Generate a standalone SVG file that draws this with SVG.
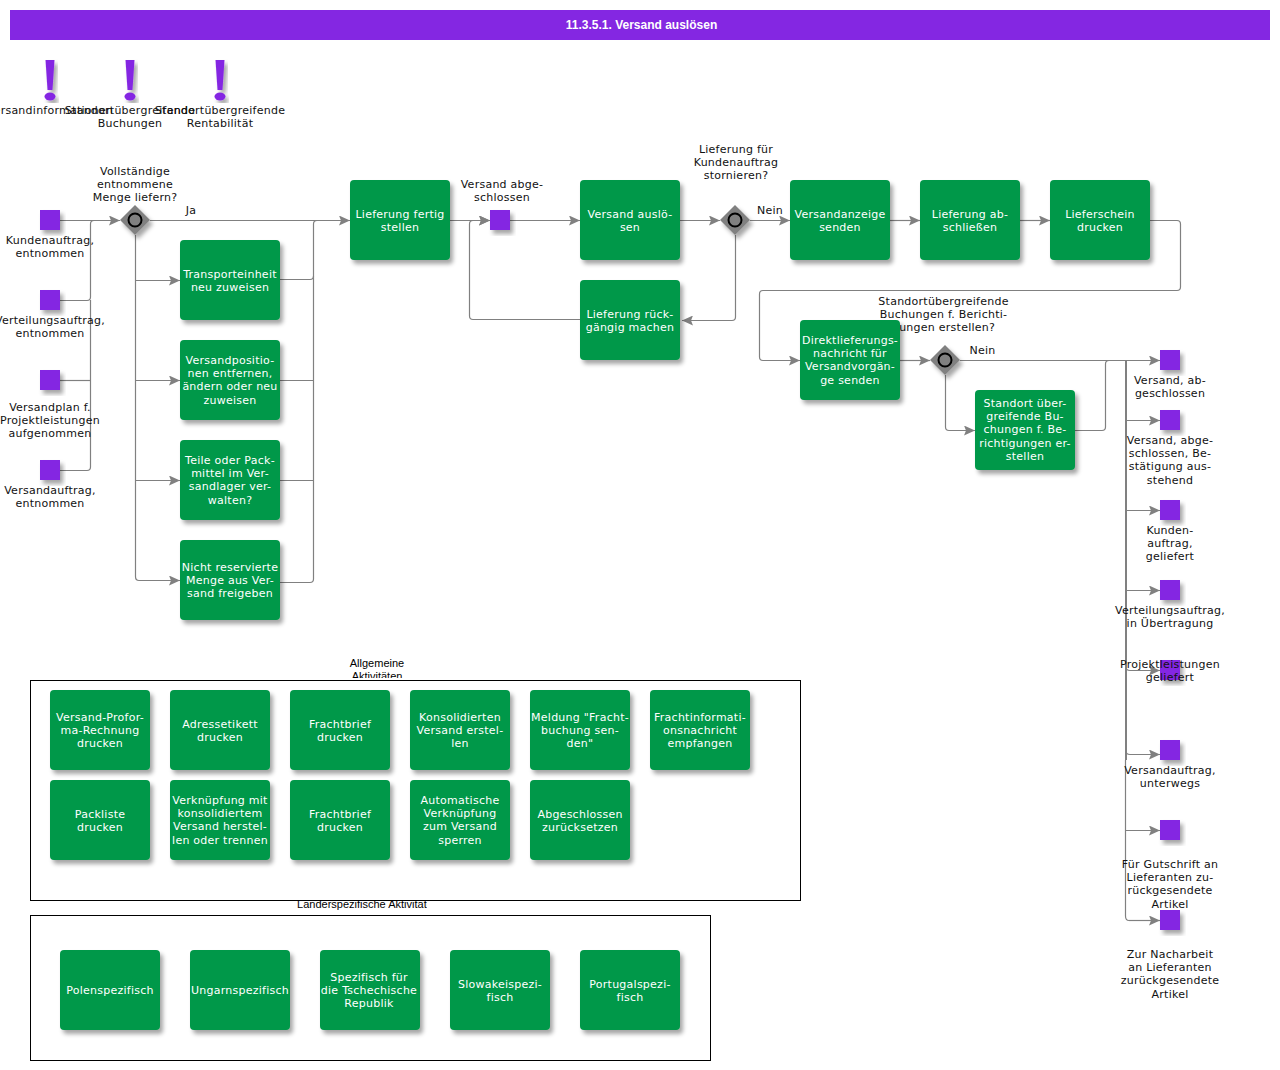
<svg xmlns="http://www.w3.org/2000/svg" width="1280" height="1070" viewBox="0 0 1280 1070">
<style>
text{font-family:"DejaVu Sans",sans-serif;font-size:11px;text-anchor:middle;letter-spacing:.25px}
.t{fill:#fff}.l{fill:#111}
.a{font-family:"Liberation Sans",Arial,sans-serif;fill:#000;letter-spacing:0}
.task{fill:#00984a;filter:url(#s)}
.sq{fill:#8427e2;filter:url(#s)}
.ex{fill:#8427e2;filter:url(#s)}
.gw{fill:#808080;filter:url(#s)}
.ring{fill:#808080;stroke:#000;stroke-width:2}
.c path{fill:none;stroke:#808080;stroke-width:1.2}
.c .e{marker-end:url(#m)}
.frame{fill:none;stroke:#000;stroke-width:1}
</style>
<defs>
<filter id="s" x="-20%" y="-20%" width="150%" height="150%"><feDropShadow dx="3" dy="4" stdDeviation="2" flood-color="#000" flood-opacity=".35"/></filter>
<marker id="m" markerUnits="userSpaceOnUse" markerWidth="11" markerHeight="10" refX="11" refY="5" orient="auto"><path d="M0 0L11 5L0 10L2 5Z" fill="#808080"/></marker>
<clipPath id="c1"><rect x="300" y="650" width="160" height="28"/></clipPath>
<clipPath id="c2"><rect x="295" y="901" width="132" height="13"/></clipPath>
</defs>
<rect id="bg" width="1280" height="1070" fill="#fff"/>
<g id="title"><rect x="10" y="10" width="1260" height="30" fill="#8427e2"/><text x="641.500" y="29" class="a" style="font-size:12px;font-weight:bold;fill:#fff">11.3.5.1. Versand auslösen</text></g>
<g id="frames">
<rect class="frame" x="30.500" y="680.500" width="770" height="220"/>
<rect class="frame" x="30.500" y="915.500" width="680" height="145"/>
<g clip-path="url(#c1)"><text class="a" x="377" y="667">Allgemeine</text><text class="a" x="377" y="680">Aktivitäten</text></g>
<g clip-path="url(#c2)"><text class="a" x="368" y="908">Länderspezifische Aktivitäten</text></g>
</g>
<g id="notes">
<g id="n1"><path class="ex" d="M45.500 60H54.500L52.500 90H47.500Z"/><ellipse class="ex" cx="50" cy="96.500" rx="5.500" ry="4"/><text class="l" x="50" y="114">Versandinformationen</text></g>
<g id="n2"><path class="ex" d="M125.500 60H134.500L132.500 90H127.500Z"/><ellipse class="ex" cx="130" cy="96.500" rx="5.500" ry="4"/><text class="l" x="130" y="114">Standortübergreifende</text><text class="l" x="130" y="127">Buchungen</text></g>
<g id="n3"><path class="ex" d="M215.500 60H224.500L222.500 90H217.500Z"/><ellipse class="ex" cx="220" cy="96.500" rx="5.500" ry="4"/><text class="l" x="220" y="114">Standortübergreifende</text><text class="l" x="220" y="127">Rentabilität</text></g>
</g>
<g id="connectors" class="c">
<path class="e" d="M60 220.500H120"/>
<path d="M60 300.500H87Q90.500 300.500 90.500 297V224Q90.500 220.500 94 220.500H100"/>
<path d="M60 380.500H90.500"/>
<path d="M60 470.500H87Q90.500 470.500 90.500 467V300"/>
<path class="e" d="M150 220.500H350"/>
<path d="M135.500 235V576.500Q135.500 580.500 139 580.500H150"/>
<path class="e" d="M135.500 280.500H180"/><path class="e" d="M135.500 380.500H180"/><path class="e" d="M135.500 480.500H180"/><path class="e" d="M139 580.500H180"/>
<path d="M280 279.500H310Q313.500 279.500 313.500 276V224Q313.500 220.500 317 220.500H320"/>
<path d="M280 380.500H313.500"/><path d="M280 480.500H313.500"/>
<path d="M280 582.500H310Q313.500 582.500 313.500 579V276"/>
<path class="e" d="M450 220.500H490"/>
<path class="e" d="M510 220.500H580"/>
<path class="e" d="M680 220.500H720"/>
<path class="e" d="M735.500 235V317Q735.500 320.500 732 320.500H682"/>
<path class="e" d="M580 319.500H473Q469.500 319.500 469.500 316V224Q469.500 220.500 473 220.500H490"/>
<path class="e" d="M750 220.500H790"/>
<path class="e" d="M890 220.500H920"/>
<path class="e" d="M1020 220.500H1050"/>
<path class="e" d="M1150 220.500H1177Q1180.500 220.500 1180.500 224V287Q1180.500 290.500 1177 290.500H763Q759.500 290.500 759.500 294V357Q759.500 360.500 763 360.500H800"/>
<path class="e" d="M900 360.500H930"/>
<path class="e" d="M960 360.500H1160"/>
<path class="e" d="M945.500 375V427Q945.500 430.500 949 430.500H975"/>
<path d="M1075 430.500H1102Q1105.500 430.500 1105.500 427V364Q1105.500 360.500 1109 360.500H1115"/>
<path style="stroke-width:2" d="M1126 361V760"/>
<path d="M1125.500 760V916Q1125.500 920.500 1129 920.500"/>
<path class="e" d="M1126 420.500H1160"/>
<path class="e" d="M1126 510.500H1160"/>
<path class="e" d="M1126 590.500H1160"/>
<path class="e" d="M1126 667Q1126 670.500 1130 670.500H1160"/>
<path class="e" d="M1126 751Q1126 754.500 1130 754.500H1160"/>
<path class="e" d="M1126 830.500H1160"/>
<path class="e" d="M1129 920.500H1160"/>
</g>
<g id="labels">
<text class="l" x="135" y="175">Vollständige</text><text class="l" x="135" y="188">entnommene</text><text class="l" x="135" y="201">Menge liefern?</text>
<text class="l" x="191" y="214">Ja</text>
<text class="l" x="502" y="188">Versand abge-</text><text class="l" x="502" y="201">schlossen</text>
<text class="l" x="736" y="153">Lieferung für</text><text class="l" x="736" y="166">Kundenauftrag</text><text class="l" x="736" y="179">stornieren?</text>
<text class="l" x="770" y="214">Nein</text>
<text class="l" x="943.500" y="305">Standortübergreifende</text><text class="l" x="943.500" y="318">Buchungen f. Berichti-</text><text class="l" x="943.500" y="331">gungen erstellen?</text>
<text class="l" x="982.500" y="354">Nein</text>
</g>
<g id="e1"><rect class="sq" x="40" y="210" width="20" height="20"/><text class="l" x="50" y="244">Kundenauftrag,</text><text class="l" x="50" y="257">entnommen</text></g>
<g id="e2"><rect class="sq" x="40" y="290" width="20" height="20"/><text class="l" x="50" y="324">Verteilungsauftrag,</text><text class="l" x="50" y="337">entnommen</text></g>
<g id="e3"><rect class="sq" x="40" y="370" width="20" height="20"/><text class="l" x="50" y="411">Versandplan f.</text><text class="l" x="50" y="424">Projektleistungen</text><text class="l" x="50" y="437">aufgenommen</text></g>
<g id="e4"><rect class="sq" x="40" y="460" width="20" height="20"/><text class="l" x="50" y="494">Versandauftrag,</text><text class="l" x="50" y="507">entnommen</text></g>
<g id="g1"><path class="gw" d="M135 205L150 220L135 235L120 220Z"/><circle class="ring" cx="135" cy="220" r="6.500"/></g>
<g id="g2"><path class="gw" d="M735 205L750 220L735 235L720 220Z"/><circle class="ring" cx="735" cy="220" r="6.500"/></g>
<g id="g3"><path class="gw" d="M945 345L960 360L945 375L930 360Z"/><circle class="ring" cx="945" cy="360" r="6.500"/></g>
<g id="e5"><rect class="sq" x="490" y="210" width="20" height="20"/></g>
<g id="a1"><rect class="task" x="180" y="240" width="100" height="80" rx="4"/><text class="t" x="230" y="278">Transporteinheit</text><text class="t" x="230" y="291">neu zuweisen</text></g>
<g id="a2"><rect class="task" x="180" y="340" width="100" height="80" rx="4"/><text class="t" x="230" y="364">Versandpositio-</text><text class="t" x="230" y="377">nen entfernen,</text><text class="t" x="230" y="390">ändern oder neu</text><text class="t" x="230" y="404">zuweisen</text></g>
<g id="a3"><rect class="task" x="180" y="440" width="100" height="80" rx="4"/><text class="t" x="230" y="464">Teile oder Pack-</text><text class="t" x="230" y="477">mittel im Ver-</text><text class="t" x="230" y="490">sandlager ver-</text><text class="t" x="230" y="504">walten?</text></g>
<g id="a4"><rect class="task" x="180" y="540" width="100" height="80" rx="4"/><text class="t" x="230" y="571">Nicht reservierte</text><text class="t" x="230" y="584">Menge aus Ver-</text><text class="t" x="230" y="597">sand freigeben</text></g>
<g id="a5"><rect class="task" x="350" y="180" width="100" height="80" rx="4"/><text class="t" x="400" y="218">Lieferung fertig</text><text class="t" x="400" y="231">stellen</text></g>
<g id="a6"><rect class="task" x="580" y="180" width="100" height="80" rx="4"/><text class="t" x="630" y="218">Versand auslö-</text><text class="t" x="630" y="231">sen</text></g>
<g id="a7"><rect class="task" x="580" y="280" width="100" height="80" rx="4"/><text class="t" x="630" y="318">Lieferung rück-</text><text class="t" x="630" y="331">gängig machen</text></g>
<g id="a8"><rect class="task" x="790" y="180" width="100" height="80" rx="4"/><text class="t" x="840" y="218">Versandanzeige</text><text class="t" x="840" y="231">senden</text></g>
<g id="a9"><rect class="task" x="920" y="180" width="100" height="80" rx="4"/><text class="t" x="970" y="218">Lieferung ab-</text><text class="t" x="970" y="231">schließen</text></g>
<g id="a10"><rect class="task" x="1050" y="180" width="100" height="80" rx="4"/><text class="t" x="1100" y="218">Lieferschein</text><text class="t" x="1100" y="231">drucken</text></g>
<g id="a11"><rect class="task" x="800" y="320" width="100" height="80" rx="4"/><text class="t" x="850" y="344">Direktlieferungs-</text><text class="t" x="850" y="357">nachricht für</text><text class="t" x="850" y="370">Versandvorgän-</text><text class="t" x="850" y="384">ge senden</text></g>
<g id="a12"><rect class="task" x="975" y="390" width="100" height="80" rx="4"/><text class="t" x="1025" y="407">Standort über-</text><text class="t" x="1025" y="420">greifende Bu-</text><text class="t" x="1025" y="433">chungen f. Be-</text><text class="t" x="1025" y="447">richtigungen er-</text><text class="t" x="1025" y="460">stellen</text></g>
<g id="r1"><rect class="sq" x="1160" y="350" width="20" height="20"/><text class="l" x="1170" y="384">Versand, ab-</text><text class="l" x="1170" y="397">geschlossen</text></g>
<g id="r2"><rect class="sq" x="1160" y="410" width="20" height="20"/><text class="l" x="1170" y="444">Versand, abge-</text><text class="l" x="1170" y="457">schlossen, Be-</text><text class="l" x="1170" y="470">stätigung aus-</text><text class="l" x="1170" y="484">stehend</text></g>
<g id="r3"><rect class="sq" x="1160" y="500" width="20" height="20"/><text class="l" x="1170" y="534">Kunden-</text><text class="l" x="1170" y="547">auftrag,</text><text class="l" x="1170" y="560">geliefert</text></g>
<g id="r4"><rect class="sq" x="1160" y="580" width="20" height="20"/><text class="l" x="1170" y="614">Verteilungsauftrag,</text><text class="l" x="1170" y="627">in Übertragung</text></g>
<g id="r5"><rect class="sq" x="1160" y="660" width="20" height="20"/><text class="l" x="1170" y="668">Projektleistungen</text><text class="l" x="1170" y="681">geliefert</text></g>
<g id="r6"><rect class="sq" x="1160" y="740" width="20" height="20"/><text class="l" x="1170" y="774">Versandauftrag,</text><text class="l" x="1170" y="787">unterwegs</text></g>
<g id="r7"><rect class="sq" x="1160" y="820" width="20" height="20"/><text class="l" x="1170" y="868">Für Gutschrift an</text><text class="l" x="1170" y="881">Lieferanten zu-</text><text class="l" x="1170" y="894">rückgesendete</text><text class="l" x="1170" y="908">Artikel</text></g>
<g id="r8"><rect class="sq" x="1160" y="910" width="20" height="20"/><text class="l" x="1170" y="958">Zur Nacharbeit</text><text class="l" x="1170" y="971">an Lieferanten</text><text class="l" x="1170" y="984">zurückgesendete</text><text class="l" x="1170" y="998">Artikel</text></g>
<g id="b1"><rect class="task" x="50" y="690" width="100" height="80" rx="4"/><text class="t" x="100" y="721">Versand-Profor-</text><text class="t" x="100" y="734">ma-Rechnung</text><text class="t" x="100" y="747">drucken</text></g>
<g id="b2"><rect class="task" x="170" y="690" width="100" height="80" rx="4"/><text class="t" x="220" y="728">Adressetikett</text><text class="t" x="220" y="741">drucken</text></g>
<g id="b3"><rect class="task" x="290" y="690" width="100" height="80" rx="4"/><text class="t" x="340" y="728">Frachtbrief</text><text class="t" x="340" y="741">drucken</text></g>
<g id="b4"><rect class="task" x="410" y="690" width="100" height="80" rx="4"/><text class="t" x="460" y="721">Konsolidierten</text><text class="t" x="460" y="734">Versand erstel-</text><text class="t" x="460" y="747">len</text></g>
<g id="b5"><rect class="task" x="530" y="690" width="100" height="80" rx="4"/><text class="t" x="580" y="721">Meldung "Fracht-</text><text class="t" x="580" y="734">buchung sen-</text><text class="t" x="580" y="747">den"</text></g>
<g id="b6"><rect class="task" x="650" y="690" width="100" height="80" rx="4"/><text class="t" x="700" y="721">Frachtinformati-</text><text class="t" x="700" y="734">onsnachricht</text><text class="t" x="700" y="747">empfangen</text></g>
<g id="b7"><rect class="task" x="50" y="780" width="100" height="80" rx="4"/><text class="t" x="100" y="818">Packliste</text><text class="t" x="100" y="831">drucken</text></g>
<g id="b8"><rect class="task" x="170" y="780" width="100" height="80" rx="4"/><text class="t" x="220" y="804">Verknüpfung mit</text><text class="t" x="220" y="817">konsolidiertem</text><text class="t" x="220" y="830">Versand herstel-</text><text class="t" x="220" y="844">len oder trennen</text></g>
<g id="b9"><rect class="task" x="290" y="780" width="100" height="80" rx="4"/><text class="t" x="340" y="818">Frachtbrief</text><text class="t" x="340" y="831">drucken</text></g>
<g id="b10"><rect class="task" x="410" y="780" width="100" height="80" rx="4"/><text class="t" x="460" y="804">Automatische</text><text class="t" x="460" y="817">Verknüpfung</text><text class="t" x="460" y="830">zum Versand</text><text class="t" x="460" y="844">sperren</text></g>
<g id="b11"><rect class="task" x="530" y="780" width="100" height="80" rx="4"/><text class="t" x="580" y="818">Abgeschlossen</text><text class="t" x="580" y="831">zurücksetzen</text></g>
<g id="d1"><rect class="task" x="60" y="950" width="100" height="80" rx="4"/><text class="t" x="110" y="994">Polenspezifisch</text></g>
<g id="d2"><rect class="task" x="190" y="950" width="100" height="80" rx="4"/><text class="t" x="240" y="994">Ungarnspezifisch</text></g>
<g id="d3"><rect class="task" x="320" y="950" width="100" height="80" rx="4"/><text class="t" x="369" y="981">Spezifisch für</text><text class="t" x="369" y="994">die Tschechische</text><text class="t" x="369" y="1007">Republik</text></g>
<g id="d4"><rect class="task" x="450" y="950" width="100" height="80" rx="4"/><text class="t" x="500" y="988">Slowakeispezi-</text><text class="t" x="500" y="1001">fisch</text></g>
<g id="d5"><rect class="task" x="580" y="950" width="100" height="80" rx="4"/><text class="t" x="630" y="988">Portugalspezi-</text><text class="t" x="630" y="1001">fisch</text></g>
</svg>
